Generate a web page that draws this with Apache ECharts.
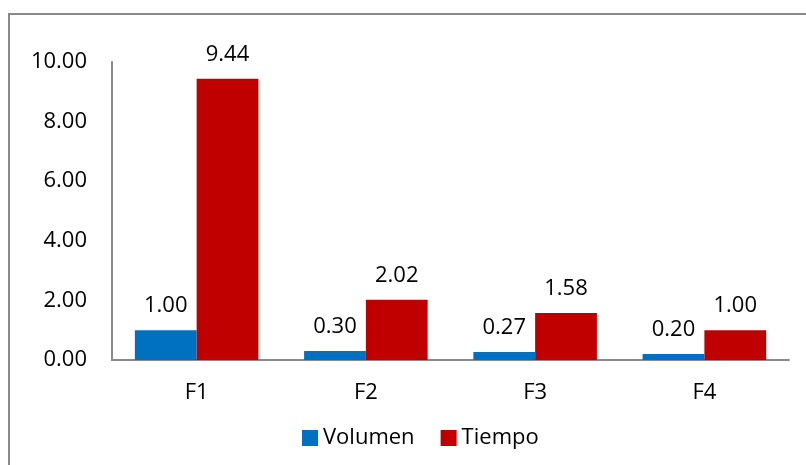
<!DOCTYPE html>
<html>
<head>
<meta charset="utf-8">
<script src="https://cdn.jsdelivr.net/npm/echarts@6/dist/echarts.min.js"></script>
<style>
  html, body { margin: 0; padding: 0; background: #fff; }
  #chart { width: 806px; height: 465px; }
</style>
</head>
<body>
<div id="chart"></div>
<script>
const categories = ['F1', 'F2', 'F3', 'F4'];
const volumen = [1.00, 0.30, 0.27, 0.20];
const tiempo = [9.44, 2.02, 1.58, 1.00];
const yTicks = { min: 0, max: 10, interval: 2 };

const FONT = '"Open Sans", "Liberation Sans", sans-serif';
const fmt = v => Number(v).toFixed(2);

const chart = echarts.init(document.getElementById('chart'), null, { renderer: 'canvas' });

const labelStyle = {
  show: true,
  position: 'top',
  distance: 13,
  color: '#000',
  fontFamily: FONT,
  fontSize: 22,
  formatter: p => fmt(p.value)
};

chart.setOption({
  animation: false,
  backgroundColor: '#fff',
  graphic: [{
    type: 'rect',
    silent: true,
    shape: { x: 9, y: 14, width: 900, height: 600 },
    style: { fill: 'none', stroke: '#8a8a8a', lineWidth: 2 }
  }],
  grid: { left: 112, right: 17, top: 62, bottom: 105 },
  legend: {
    data: ['Volumen', 'Tiempo'],
    left: 297,
    top: 422,
    itemWidth: 16,
    itemHeight: 16,
    itemGap: 26,
    icon: 'rect',
    textStyle: { fontFamily: FONT, fontSize: 22, color: '#000' }
  },
  xAxis: {
    type: 'category',
    data: categories,
    axisLine: { lineStyle: { color: '#8a8a8a', width: 2 } },
    axisTick: { show: false },
    axisLabel: { color: '#000', fontFamily: FONT, fontSize: 22, margin: 22 }
  },
  yAxis: {
    type: 'value',
    min: yTicks.min,
    max: yTicks.max,
    interval: yTicks.interval,
    splitLine: { show: false },
    axisLine: { show: true, lineStyle: { color: '#8a8a8a', width: 2 } },
    axisTick: { show: false },
    axisLabel: { color: '#000', fontFamily: FONT, fontSize: 22, margin: 25, formatter: fmt }
  },
  series: [
    {
      name: 'Volumen',
      type: 'bar',
      data: volumen,
      barGap: '0%',
      barCategoryGap: '27%',
      itemStyle: { color: '#0070C0' },
      label: labelStyle
    },
    {
      name: 'Tiempo',
      type: 'bar',
      data: tiempo,
      barGap: '0%',
      barCategoryGap: '27%',
      itemStyle: { color: '#C00000' },
      label: labelStyle
    }
  ]
});
</script>
</body>
</html>
